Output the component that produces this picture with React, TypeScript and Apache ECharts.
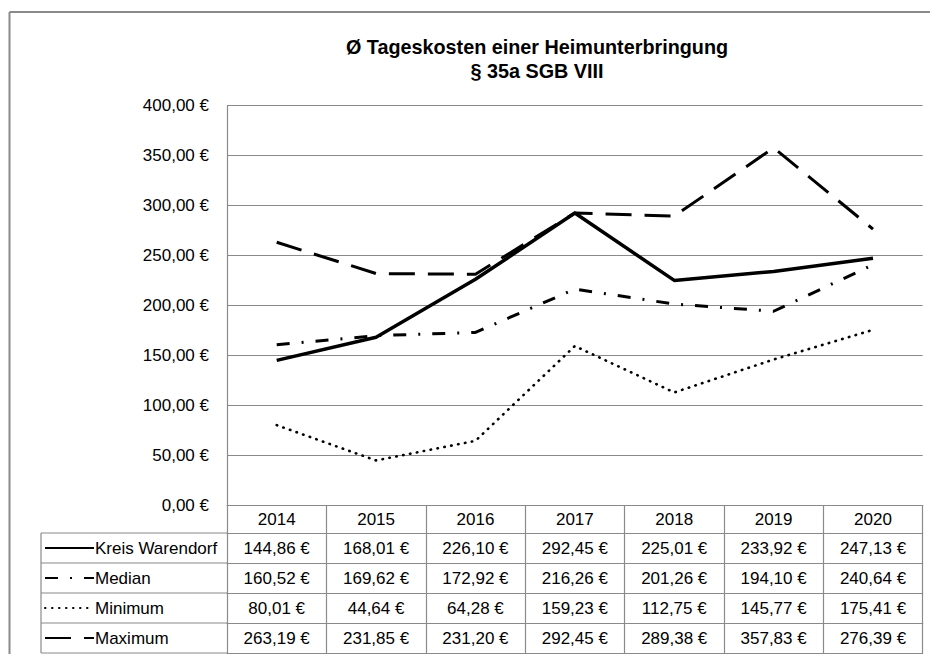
import React, { useEffect, useRef } from "react";
import * as echarts from "echarts";

const years = ["2014", "2015", "2016", "2017", "2018", "2019", "2020"];
const seriesNames = ["Kreis Warendorf", "Median", "Minimum", "Maximum"];
const kreisWarendorf = [144.86, 168.01, 226.1, 292.45, 225.01, 233.92, 247.13];
const median = [160.52, 169.62, 172.92, 216.26, 201.26, 194.1, 240.64];
const minimum = [80.01, 44.64, 64.28, 159.23, 112.75, 145.77, 175.41];
const maximum = [263.19, 231.85, 231.2, 292.45, 289.38, 357.83, 276.39];
const yTicks = { min: 0, max: 400, interval: 50 };

const FONT = "'Liberation Sans', Arial, sans-serif";
const GRAY = "#8a8a8a";

const fmt = (v: number) => v.toFixed(2).replace(".", ",") + " €";

export default function App() {
  const ref = useRef<HTMLDivElement>(null);
  useEffect(() => {
    if (!ref.current) return;
    document.documentElement.style.overflow = "hidden";
    document.body.style.margin = "0";
    const chart = echarts.init(ref.current, undefined, { renderer: "svg" });
    const allData = [kreisWarendorf, median, minimum, maximum];
    const styles = [
      { width: 3.5, type: "solid" as any, cap: "butt" },
      { width: 3, type: [13, 12, 2, 12], cap: "butt" },
      { width: 2.6, type: [0.5, 6.5], cap: "round" },
      { width: 3, type: [26, 13], cap: "butt" },
    ];
    const gridLeft = 227;
    const gridTop = 105.7;
    const gridBottomY = 505;
    const gridRight = 922.7;
    const rowH = 30;
    const headerH = 28;

    const rowAxes = allData.map((d, k) => ({
      type: "category",
      gridIndex: 0,
      position: "bottom",
      offset: headerH + rowH * k,
      data: years,
      boundaryGap: true,
      axisLine: { show: true, lineStyle: { color: GRAY, width: 1.2 } },
      axisTick: { show: true, length: rowH, interval: 0, lineStyle: { color: GRAY, width: 1.2 } },
      axisLabel: {
        interval: 0,
        margin: 15,
        verticalAlign: "middle",
        color: "#000",
        fontFamily: FONT,
        fontSize: 17,
        formatter: (_v: string, i: number) => fmt(d[i]),
      },
      splitLine: { show: false },
    }));

    const tableLeft = 41;
    const graphicLines: any[] = [];
    for (let k = 0; k <= allData.length; k++) {
      const y = gridBottomY + headerH + rowH * k;
      graphicLines.push({
        type: "line",
        shape: { x1: tableLeft, y1: y, x2: gridLeft, y2: y },
        style: { stroke: GRAY, lineWidth: 1.2 },
      });
    }
    graphicLines.push({
      type: "line",
      shape: {
        x1: tableLeft,
        y1: gridBottomY + headerH,
        x2: tableLeft,
        y2: gridBottomY + headerH + rowH * allData.length,
      },
      style: { stroke: GRAY, lineWidth: 1.2 },
    });
    // outer chart frame (extends beyond the visible page at right and bottom)
    graphicLines.push({
      type: "line",
      shape: { x1: 9.5, y1: 12, x2: 930, y2: 12 },
      style: { stroke: GRAY, lineWidth: 2 },
      silent: true,
    });
    graphicLines.push({
      type: "line",
      shape: { x1: 9.5, y1: 12, x2: 9.5, y2: 654 },
      style: { stroke: GRAY, lineWidth: 2 },
      silent: true,
    });

    chart.setOption({
      animation: false,
      backgroundColor: "#fff",
      title: {
        text: "Ø Tageskosten einer Heimunterbringung\n§ 35a SGB VIII",
        left: 532,
        top: 30,
        textAlign: "center",
        textStyle: {
          fontFamily: FONT,
          fontSize: 19.8,
          fontWeight: "bold",
          lineHeight: 24,
          color: "#000",
        },
      },
      legend: {
        orient: "vertical",
        left: tableLeft + 3,
        top: gridBottomY + headerH + 6.5,
        padding: 0,
        itemWidth: 49,
        itemHeight: 14,
        itemGap: 13,
        selectedMode: false,
        data: seriesNames,
        itemStyle: { opacity: 0 },
        textStyle: { fontFamily: FONT, fontSize: 17, lineHeight: 17, color: "#000", padding: [0, 0, 0, -4] },
      },
      grid: {
        left: gridLeft,
        top: gridTop,
        width: gridRight - gridLeft,
        height: gridBottomY - gridTop,
      },
      xAxis: [
        {
          type: "category",
          data: years,
          boundaryGap: true,
          axisLine: { show: true, lineStyle: { color: GRAY, width: 1.2 } },
          axisTick: { show: true, length: headerH, interval: 0, lineStyle: { color: GRAY, width: 1.2 } },
          axisLabel: {
            interval: 0,
            margin: 14,
            verticalAlign: "middle",
            color: "#000",
            fontFamily: FONT,
            fontSize: 17,
          },
        },
        ...rowAxes,
        {
          type: "category",
          position: "bottom",
          offset: headerH + rowH * allData.length,
          data: years,
          axisLine: { show: true, lineStyle: { color: GRAY, width: 1.2 } },
          axisTick: { show: false },
          axisLabel: { show: false },
        },
      ],
      yAxis: {
        type: "value",
        min: yTicks.min,
        max: yTicks.max,
        interval: yTicks.interval,
        axisLine: { show: true, lineStyle: { color: GRAY, width: 1.2 } },
        axisTick: { show: false },
        splitLine: { show: true, lineStyle: { color: GRAY, width: 1.2 } },
        axisLabel: {
          margin: 18,
          color: "#000",
          fontFamily: FONT,
          fontSize: 17,
          formatter: (v: number) => fmt(v),
        },
      },
      series: allData.map((d, k) => ({
        name: seriesNames[k],
        type: "line",
        xAxisIndex: 0,
        data: d,
        symbol: "none",
        showSymbol: false,
        lineStyle: { color: "#000", width: styles[k].width, type: styles[k].type, cap: styles[k].cap, join: "round" },
        itemStyle: { color: "#000" },
        z: 3,
      })),
      graphic: graphicLines,
    });
    return () => chart.dispose();
  }, []);
  return (
    <div
      ref={ref}
      style={{ position: "fixed", left: 0, top: 0, width: 930, height: 654, background: "#fff" }}
    />
  );
}
